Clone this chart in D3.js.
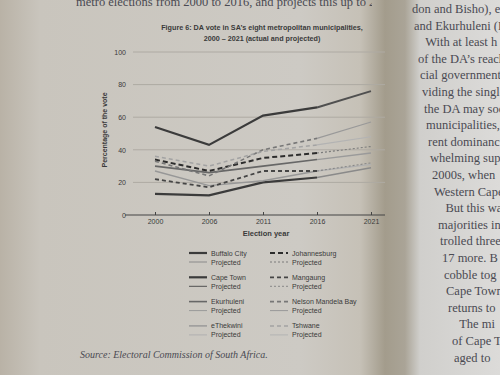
<!DOCTYPE html>
<html lang="en">
<head>
<meta charset="utf-8" />
<title>DA vote in SA's eight metros</title>
<script src="https://cdn.jsdelivr.net/npm/d3@7/dist/d3.min.js"></script>
<style>
  body { margin: 0; background: #c9c5be; }
  svg { display: block; }
  .grid-line { stroke: #aeaaa3; stroke-width: 1px; }
  .chart-text { font-family: "Liberation Sans Narrow", "Liberation Sans", Arial, sans-serif; fill: #3a3a3a; }
  .page-text { font-family: "Liberation Serif", "DejaVu Serif", serif; fill: #4a4a52; }
</style>
</head>
<body>
<script>
var w = 500;
var h = 375;

// chart data (percent of vote)
var years = ["2000", "2006", "2011", "2016", "2021"];
var yTicks = [0, 20, 40, 60, 80, 100];
var cities = ["Buffalo City", "Cape Town", "Ekurhuleni", "eThekwini",
              "Johannesburg", "Mangaung", "Nelson Mandela Bay", "Tshwane"];
var buffaloCity = [13, 12, 20, 23];
var capeTown = [54, 43, 61, 66];
var ekurhuleni = [30, 26, 30, 34];
var eThekwini = [27, 18, 21, 27];
var johannesburg = [34, 27, 35, 38];
var mangaung = [22, 17, 27, 27];
var nelsonMandelaBay = [33, 24, 40, 47];
var tshwane = [36, 30, 39, 43];
// projected 2021 value for each city, same order as cities
var projected2021 = [29, 76, 38, 31, 42, 32, 57, 48];

var titleLines = ["Figure 6: DA vote in SA\u2019s eight metropolitan municipalities,",
                  "2000 \u2013 2021 (actual and projected)"];
var topText = "metro elections from 2000 to 2016, and projects this up to 2021";
var sourceText = "Source: Electoral Commission of South Africa.";
var rightPage = ["don and Bisho), e", "and Ekurhuleni (E", "   With at least h",
  "of the DA\u2019s reach", "cial government", "viding the single", "the DA may soo",
  "municipalities,", "rent dominanc", "whelming sup", "2000s, when",
  "Western Cape", "   But this wa", "majorities in", "trolled three",
  "17 more. B", "cobble tog", "Cape Town", "returns to", "   The mi",
  "of Cape T", "aged to"];

var series = [buffaloCity, capeTown, ekurhuleni, eThekwini,
              johannesburg, mangaung, nelsonMandelaBay, tshwane];

// styles per city
var styles = [
  { c: "#3b3b3b", w: 2.2, dash: null, pc: "#8a8a8a", pw: 1.5, pdash: null },
  { c: "#3b3b3b", w: 2.2, dash: null, pc: "#505050", pw: 2, pdash: null },
  { c: "#676767", w: 1.6, dash: null, pc: "#9a9a9a", pw: 1.4, pdash: null },
  { c: "#979797", w: 1.4, dash: null, pc: "#b0b0b0", pw: 1.3, pdash: null },
  { c: "#2c2c2c", w: 2.0, dash: "5,3", pc: "#7a7a7a", pw: 1.1, pdash: "2,2" },
  { c: "#454545", w: 1.8, dash: "4,3", pc: "#888", pw: 1.1, pdash: "2,2" },
  { c: "#777", w: 1.6, dash: "4,3", pc: "#999", pw: 1.1, pdash: null },
  { c: "#a3a3a3", w: 1.5, dash: "4,3", pc: "#b3b3b3", pw: 1.1, pdash: null }
];

var svg = d3.select("body").append("svg")
  .attr("width", w)
  .attr("height", h);

var defs = svg.append("defs");
var pageGrad = defs.append("linearGradient").attr("id", "pageGrad")
  .attr("x1", "0").attr("x2", "1").attr("y1", "0").attr("y2", "0");
pageGrad.append("stop").attr("offset", "0").attr("stop-color", "#b9b2a6");
pageGrad.append("stop").attr("offset", "0.08").attr("stop-color", "#c9c5bd");
pageGrad.append("stop").attr("offset", "0.6").attr("stop-color", "#cdcac4");
pageGrad.append("stop").attr("offset", "0.72").attr("stop-color", "#c6c1b7");
pageGrad.append("stop").attr("offset", "0.77").attr("stop-color", "#a39c8c");
pageGrad.append("stop").attr("offset", "0.81").attr("stop-color", "#aaa497");
pageGrad.append("stop").attr("offset", "0.84").attr("stop-color", "#d0cfcc");
pageGrad.append("stop").attr("offset", "1").attr("stop-color", "#dcdbd9");

defs.append("clipPath").attr("id", "leftClip")
  .append("rect").attr("x", 0).attr("y", 0).attr("width", 372).attr("height", h);

svg.append("rect").attr("width", w).attr("height", h).attr("fill", "url(#pageGrad)");

// top line of body text (cut by the gutter)
svg.append("text").attr("class", "page-text")
  .attr("clip-path", "url(#leftClip)")
  .attr("x", 76).attr("y", 6)
  .attr("font-size", 12.5)
  .text(topText);

// right page text
svg.append("g").selectAll("text")
  .data(rightPage)
  .enter().append("text")
  .attr("class", "page-text")
  .attr("font-size", 12.5)
  .attr("x", function(d, i) { return 412 + i * 2; })
  .attr("y", function(d, i) { return 13 + i * 16.6; })
  .attr("xml:space", "preserve")
  .text(function(d) { return d; });

// title
svg.append("g").selectAll("text")
  .data(titleLines)
  .enter().append("text")
  .attr("class", "chart-text")
  .attr("x", 262)
  .attr("y", function(d, i) { return 30 + i * 11; })
  .attr("text-anchor", "middle")
  .attr("font-size", 7.2)
  .attr("font-weight", "bold")
  .text(function(d) { return d; });

var xScale = d3.scalePoint()
  .domain(years)
  .range([155, 371]);

var yScale = d3.scaleLinear()
  .domain([0, 100])
  .range([215, 52]);

// gridlines
svg.append("g").selectAll("line")
  .data(yTicks.filter(function(d) { return d > 0; }))
  .enter().append("line")
  .attr("class", "grid-line")
  .attr("x1", 133).attr("x2", 385)
  .attr("y1", function(d) { return yScale(d); })
  .attr("y2", function(d) { return yScale(d); });

var yAxis = d3.axisLeft(yScale).tickValues(yTicks).tickSize(0).tickPadding(4);
var yg = svg.append("g").attr("transform", "translate(130,0)").call(yAxis);
yg.select(".domain").remove();
yg.selectAll("text").attr("class", "chart-text").attr("font-size", 7).attr("fill", "#555");

var xAxis = d3.axisBottom(xScale).tickSize(0).tickPadding(4);
var xg = svg.append("g").attr("transform", "translate(0,215)").call(xAxis);
xg.select(".domain").attr("d", "M125,0H385").attr("stroke", "#444").attr("stroke-width", 1.2);
xg.selectAll(".tick line").attr("y1", -3).attr("y2", 0).attr("stroke", "#444");
xg.selectAll("text").attr("class", "chart-text").attr("font-size", 7).attr("fill", "#555");

svg.append("text").attr("class", "chart-text")
  .attr("x", 266).attr("y", 236)
  .attr("text-anchor", "middle")
  .attr("font-size", 7.5)
  .attr("font-weight", "bold")
  .text("Election year");

svg.append("text").attr("class", "chart-text")
  .attr("transform", "translate(107,130) rotate(-90)")
  .attr("text-anchor", "middle")
  .attr("font-size", 7)
  .attr("font-weight", "bold")
  .text("Percentage of the vote");

var line = d3.line()
  .x(function(d) { return xScale(d.year); })
  .y(function(d) { return yScale(d.value); });

var lines = svg.append("g");

// projected segments first (2016 -> 2021)
cities.forEach(function(c, i) {
  var s = styles[i];
  var pts = [{ year: "2016", value: series[i][3] }, { year: "2021", value: projected2021[i] }];
  lines.append("path")
    .datum(pts)
    .attr("d", line)
    .attr("fill", "none")
    .attr("stroke", s.pc)
    .attr("stroke-width", s.pw)
    .attr("stroke-dasharray", s.pdash);
});

// actual 2000-2016
cities.forEach(function(c, i) {
  var s = styles[i];
  var pts = series[i].map(function(v, j) { return { year: years[j], value: v }; });
  lines.append("path")
    .datum(pts)
    .attr("d", line)
    .attr("fill", "none")
    .attr("stroke", s.c)
    .attr("stroke-width", s.w)
    .attr("stroke-dasharray", s.dash);
});

// legend
var legend = svg.append("g");
cities.forEach(function(c, i) {
  var s = styles[i];
  var col = i < 4 ? 0 : 1;
  var row = i % 4;
  var lx = col === 0 ? 189 : 270;
  var ly = 253 + row * 24.3;
  legend.append("line")
    .attr("x1", lx).attr("x2", lx + 18)
    .attr("y1", ly).attr("y2", ly)
    .attr("stroke", s.c).attr("stroke-width", s.w)
    .attr("stroke-dasharray", s.dash);
  legend.append("text").attr("class", "chart-text")
    .attr("x", lx + 22).attr("y", ly + 2.5)
    .attr("font-size", 7).attr("fill", "#555")
    .text(c);
  legend.append("line")
    .attr("x1", lx).attr("x2", lx + 18)
    .attr("y1", ly + 9).attr("y2", ly + 9)
    .attr("stroke", s.pc).attr("stroke-width", 1)
    .attr("stroke-dasharray", s.pdash);
  legend.append("text").attr("class", "chart-text")
    .attr("x", lx + 22).attr("y", ly + 11.5)
    .attr("font-size", 7).attr("fill", "#555")
    .text("Projected");
});

svg.append("text").attr("class", "page-text")
  .attr("x", 80).attr("y", 358)
  .attr("font-size", 10)
  .attr("font-style", "italic")
  .text(sourceText);
</script>
</body>
</html>
